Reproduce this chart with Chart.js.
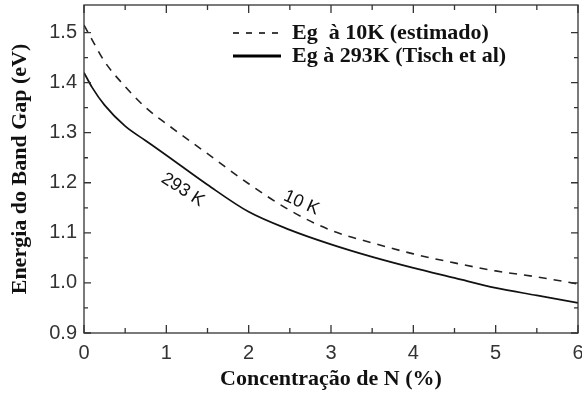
<!DOCTYPE html>
<html lang="pt">
<head>
<meta charset="utf-8">
<title>Energia do Band Gap</title>
<script src="https://cdn.jsdelivr.net/npm/chart.js@4"></script>
<style>
    html, body { margin: 0; padding: 0; background: #fff; }
    #wrap { width: 582px; height: 396px; }
</style>
</head>
<body>
<div id="wrap"><canvas id="gapChart" width="582" height="396"></canvas></div>
<script>
// concentração de N (%)
const concentracao = [0, 0.1, 0.25, 0.5, 0.75, 1, 1.5, 2, 2.5, 3, 3.5, 4, 4.5, 5, 5.5, 6];
// Eg a 10K (estimado), em eV
const eg10K = [1.515, 1.485, 1.442, 1.392, 1.350, 1.318, 1.258, 1.198, 1.145, 1.105, 1.080, 1.058, 1.040, 1.024, 1.012, 0.998];
// Eg a 293K (Tisch et al), em eV
const eg293K = [1.420, 1.390, 1.355, 1.313, 1.284, 1.255, 1.196, 1.142, 1.106, 1.077, 1.052, 1.030, 1.010, 0.990, 0.975, 0.960];

// marcas dos eixos
const xTicks = [0, 1, 2, 3, 4, 5, 6];
const xTicksMenores = [0.5, 1.5, 2.5, 3.5, 4.5, 5.5];
const yTicks = [0.9, 1.0, 1.1, 1.2, 1.3, 1.4, 1.5];
const yTicksMenores = [0.95, 1.05, 1.15, 1.25, 1.35, 1.45];

// legenda e rótulos das curvas
const legendaTextos = ['Eg  à 10K (estimado)', 'Eg à 293K (Tisch et al)'];
const rotulosCurvas = ['293 K', '10 K'];

const fonteSerif = '"Liberation Serif", "Times New Roman", serif';
const fonteSans = '"Liberation Sans", Arial, Helvetica, sans-serif';
const corTexto = '#111';
const corEixo = '#333';

// monta os pontos {x, y} a partir das listas
function pontos(ys) {
    return concentracao.map((c, i) => ({ x: c, y: ys[i] }));
}

// sem folga extra para os rótulos das pontas
function semFolga(s) {
    s.paddingTop = 0;
    s.paddingBottom = 0;
    s.paddingLeft = 0;
    s.paddingRight = 0;
}

// moldura com marcas para dentro nos quatro lados
const molduraPlugin = {
    id: 'moldura',
    afterDatasetsDraw(chart) {
        const { ctx, chartArea: a, scales: { x, y } } = chart;
        ctx.save();
        ctx.strokeStyle = corEixo;
        ctx.lineWidth = 1.3;
        ctx.strokeRect(a.left, a.top, a.right - a.left, a.bottom - a.top);

        ctx.beginPath();
        const marcaX = (v, len) => {
            const px = x.getPixelForValue(v);
            ctx.moveTo(px, a.bottom); ctx.lineTo(px, a.bottom - len);
            ctx.moveTo(px, a.top); ctx.lineTo(px, a.top + len);
        };
        const marcaY = (v, len) => {
            const py = y.getPixelForValue(v);
            ctx.moveTo(a.left, py); ctx.lineTo(a.left + len, py);
            ctx.moveTo(a.right, py); ctx.lineTo(a.right - len, py);
        };
        xTicks.forEach(v => marcaX(v, 8));
        xTicksMenores.forEach(v => marcaX(v, 5));
        yTicks.forEach(v => marcaY(v, 7));
        yTicksMenores.forEach(v => marcaY(v, 4));
        ctx.stroke();
        ctx.restore();
    }
};

// legenda dentro da área do gráfico, canto superior direito
const legendaPlugin = {
    id: 'legendaInterna',
    afterDraw(chart) {
        const { ctx, chartArea: a } = chart;
        const x0 = a.left + 149;
        const linhas = [
            { y: a.top + 28, dash: [6, 7], largura: 1.6 },
            { y: a.top + 51, dash: [], largura: 2.8 }
        ];
        ctx.save();
        linhas.forEach((l, i) => {
            ctx.beginPath();
            ctx.setLineDash(l.dash);
            ctx.lineWidth = l.largura;
            ctx.strokeStyle = '#000';
            ctx.moveTo(x0, l.y);
            ctx.lineTo(x0 + 48, l.y);
            ctx.stroke();
            ctx.setLineDash([]);
            ctx.fillStyle = corTexto;
            ctx.font = 'bold 22px ' + fonteSerif;
            ctx.textBaseline = 'middle';
            ctx.textAlign = 'left';
            ctx.fillText(legendaTextos[i], x0 + 59, l.y);
        });
        ctx.restore();
    }
};

// rótulos inclinados junto às curvas
const ancorasRotulos = [
    { x: 1.2, y: 1.186, angulo: 33 },
    { x: 2.64, y: 1.160, angulo: 24 }
];
const rotulosPlugin = {
    id: 'rotulosCurvas',
    afterDatasetsDraw(chart) {
        const { ctx, scales: { x, y } } = chart;
        ctx.save();
        ctx.fillStyle = '#111';
        ctx.font = '18px ' + fonteSans;
        ctx.textAlign = 'center';
        ctx.textBaseline = 'middle';
        rotulosCurvas.forEach((txt, i) => {
            const r = ancorasRotulos[i];
            ctx.save();
            ctx.translate(x.getPixelForValue(r.x), y.getPixelForValue(r.y));
            ctx.rotate(r.angulo * Math.PI / 180);
            ctx.fillText(txt, 0, 0);
            ctx.restore();
        });
        ctx.restore();
    }
};

// cria o gráfico
const ctx = document.getElementById('gapChart').getContext('2d');
const gapChart = new Chart(ctx, {
    type: 'line',
    data: {
        datasets: [{
            label: legendaTextos[0],
            data: pontos(eg10K),
            borderColor: '#222',
            borderWidth: 1.6,
            borderDash: [8, 7],
            pointRadius: 0,
            cubicInterpolationMode: 'monotone',
            fill: false
        }, {
            label: legendaTextos[1],
            data: pontos(eg293K),
            borderColor: '#111',
            borderWidth: 1.7,
            pointRadius: 0,
            cubicInterpolationMode: 'monotone',
            fill: false
        }]
    },
    options: {
        responsive: false,
        animation: false,
        layout: { padding: { top: 5, right: 4, left: 0, bottom: 0 } },
        plugins: {
            legend: { display: false },
            tooltip: { enabled: false }
        },
        scales: {
            x: {
                type: 'linear',
                min: 0,
                max: 6,
                grid: { display: false, drawTicks: false },
                border: { display: false },
                afterBuildTicks: s => { s.ticks = xTicks.map(v => ({ value: v })); },
                afterFit: s => { s.height = 63; semFolga(s); },
                ticks: {
                    padding: 8,
                    color: corEixo,
                    font: { family: fonteSans, size: 20 },
                    maxRotation: 0,
                    callback: v => String(v)
                },
                title: {
                    display: true,
                    text: 'Concentração de N (%)',
                    color: corTexto,
                    font: { family: fonteSerif, size: 22, weight: 'bold' },
                    padding: { top: 0, bottom: 3 }
                }
            },
            y: {
                type: 'linear',
                min: 0.9,
                max: 1.555,
                grid: { display: false, drawTicks: false },
                border: { display: false },
                afterBuildTicks: s => { s.ticks = yTicks.map(v => ({ value: v })); },
                afterFit: s => { s.width = 84; semFolga(s); },
                ticks: {
                    padding: 7,
                    color: corEixo,
                    font: { family: fonteSans, size: 20 },
                    callback: v => v.toFixed(1)
                },
                title: {
                    display: true,
                    text: 'Energia do Band Gap (eV)',
                    color: corTexto,
                    font: { family: fonteSerif, size: 22, weight: 'bold' },
                    padding: { top: 7, bottom: 0 }
                }
            }
        }
    },
    plugins: [molduraPlugin, rotulosPlugin, legendaPlugin]
});
</script>
</body>
</html>
